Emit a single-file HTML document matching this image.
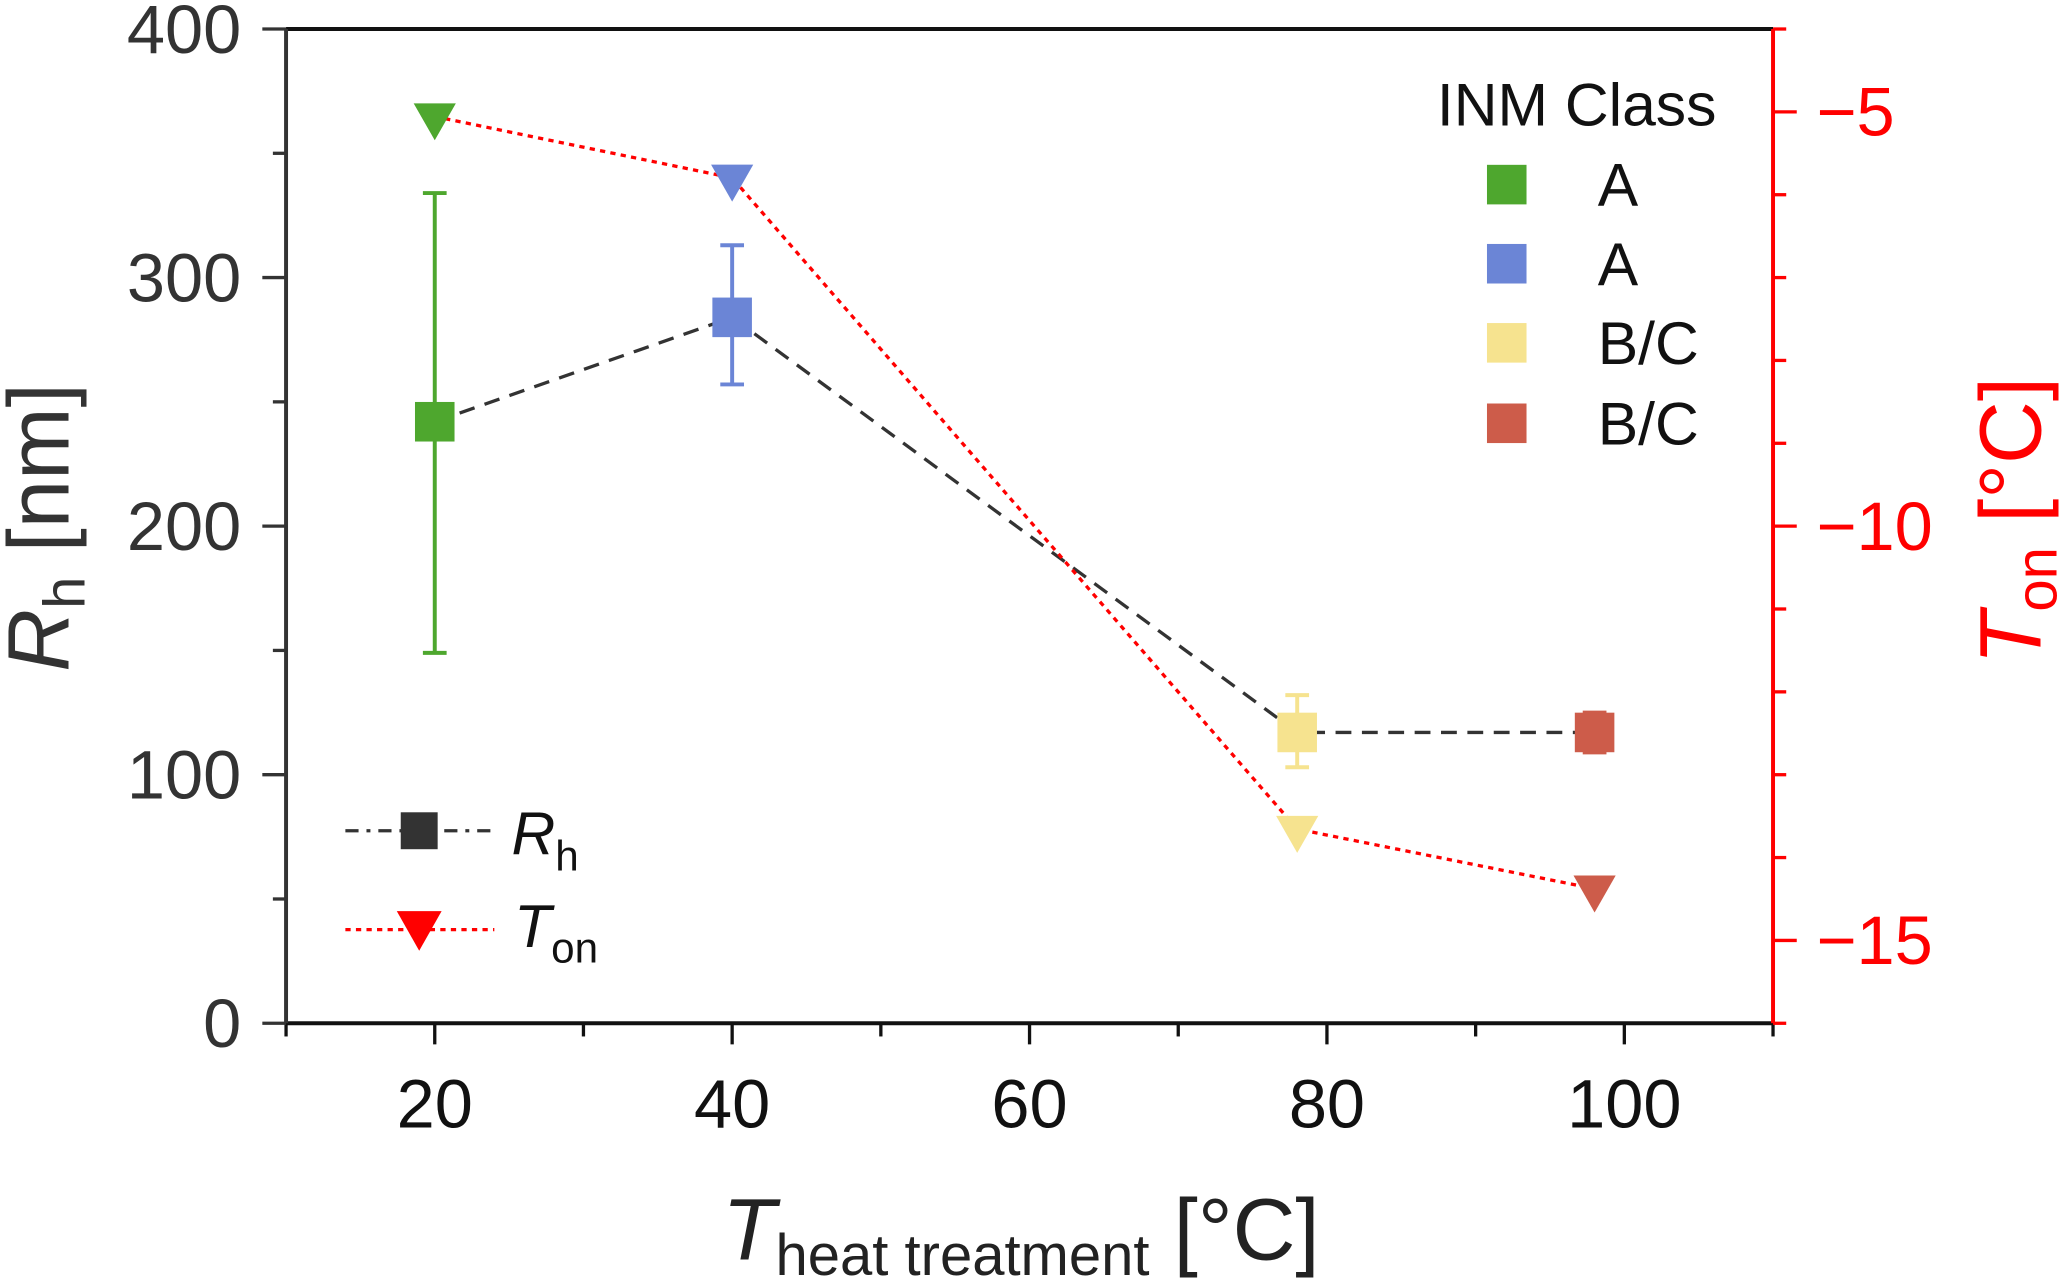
<!DOCTYPE html>
<html><head><meta charset="utf-8"><style>
html,body{margin:0;padding:0;background:#fff;}
svg{display:block;font-family:"Liberation Sans",Arial,sans-serif;}
</style></head><body>
<svg id="chart" width="2067" height="1287" viewBox="0 0 1568 976" preserveAspectRatio="none" xmlns="http://www.w3.org/2000/svg">
<g id="axes"></g>
<g id="marks"></g>
<text x="548" y="955" font-size="66" fill="#222"><tspan font-style="italic">T</tspan><tspan font-size="44" dy="12">heat treatment</tspan><tspan dy="-12"> [°C]</tspan></text>
<text transform="translate(52,400) rotate(-90)" text-anchor="middle" font-size="66" fill="#333"><tspan font-style="italic">R</tspan><tspan font-size="44" dy="12">h</tspan><tspan dy="-12"> [nm]</tspan></text>
<text transform="translate(1548,395) rotate(-90)" text-anchor="middle" font-size="66" fill="#ff0000"><tspan font-style="italic">T</tspan><tspan font-size="44" dy="12">on</tspan><tspan dy="-12"> [°C]</tspan></text>
<g>
<text x="1090" y="95" font-size="46" fill="#111">INM Class</text>
<rect x="1128" y="125" width="30" height="30" fill="#4ea72e"/>
<text x="1212" y="156" font-size="46" fill="#111">A</text>
<rect x="1128" y="185" width="30" height="30" fill="#6b85d6"/>
<text x="1212" y="216" font-size="46" fill="#111">A</text>
<rect x="1128" y="245" width="30" height="30" fill="#f6e38f"/>
<text x="1212" y="276" font-size="46" fill="#111">B/C</text>
<rect x="1128" y="306" width="30" height="30" fill="#cd5c4a"/>
<text x="1212" y="337" font-size="46" fill="#111">B/C</text>
</g>
<g>
<line x1="262" y1="630" x2="375" y2="630" stroke="#333" stroke-width="2.5" stroke-dasharray="10,6,3,6"/>
<rect x="304" y="616" width="28" height="28" fill="#333"/>
<text x="388" y="648" font-size="46" fill="#111"><tspan font-style="italic">R</tspan><tspan font-size="32" dy="12">h</tspan></text>
<line x1="262" y1="705" x2="375" y2="705" stroke="#ff0000" stroke-width="2.5" stroke-dasharray="4,4"/>
<polygon points="301,691 335,691 318,721" fill="#ff0000"/>
<text x="390" y="718" font-size="46" fill="#111"><tspan font-style="italic">T</tspan><tspan font-size="32" dy="12">on</tspan></text>
</g>
</svg>
<script>
const xCats = [20, 40, 78, 98];
const rhVals = [242, 284, 117, 117];
const rhLow = [149, 257, 103, 109];
const rhHigh = [334, 313, 132, 125];
const tonVals = [-5.12, -5.86, -13.72, -14.44];
const colors = ['#4ea72e', '#6b85d6', '#f6e38f', '#cd5c4a'];
const xTicks = [20, 40, 60, 80, 100];
const yTicks = [0, 100, 200, 300, 400];
const rTicks = [-5, -10, -15];

const L=217,R=1345,T=22,B=776;
const xs=v=>L+(v-10)/100*(R-L);
const ys=v=>B-v/400*(B-T);
const rs=v=>T+(-4-v)/12*(B-T);
const NS='http://www.w3.org/2000/svg';
function mk(parent,tag,attrs){const e=document.createElementNS(NS,tag);for(const k in attrs)e.setAttribute(k,attrs[k]);parent.appendChild(e);return e;}
const ax=document.getElementById('axes'), mg=document.getElementById('marks');

let e;
e=mk(ax,'line',{x1:L,y1:T,x2:R,y2:T,stroke:'#111','stroke-width':3});


e=mk(ax,'line',{x1:L,y1:B,x2:R,y2:B,stroke:'#111','stroke-width':3});


e=mk(ax,'line',{x1:L,y1:T,x2:L,y2:B,stroke:'#333','stroke-width':3});


e=mk(ax,'line',{x1:R,y1:T,x2:R,y2:B,stroke:'#ff0000','stroke-width':3});



for(let v=10;v<=110;v+=10){
  const major=v%20===0;
  e=mk(ax,'line',{x1:xs(v),y1:B,x2:xs(v),y2:B+(major?16:10),stroke:'#111','stroke-width':2.5});
  
  
}
xTicks.forEach(v=>{
  e=mk(ax,'text',{x:xs(v),y:855,'text-anchor':'middle','font-size':52,fill:'#111'});
  e.textContent=v;
  
  
});
for(let v=0;v<=400;v+=50){
  const major=v%100===0;
  e=mk(ax,'line',{x1:L,y1:ys(v),x2:L-(major?18:10),y2:ys(v),stroke:'#333','stroke-width':2.5});
  
  
}
yTicks.forEach(v=>{
  e=mk(ax,'text',{x:183,y:ys(v)+18,'text-anchor':'end','font-size':52,fill:'#333'});
  e.textContent=v;
  
  
});
for(let v=-16;v<=-4;v+=1){
  const major=v%5===0;
  e=mk(ax,'line',{x1:R,y1:rs(v),x2:R+(major?18:10),y2:rs(v),stroke:'#ff0000','stroke-width':2.5});
  
  
}
rTicks.forEach(v=>{
  e=mk(ax,'text',{x:1378,y:rs(v)+18,'font-size':52,fill:'#ff0000'});
  e.textContent='\u2212'+Math.abs(v);
  
  
});

e=mk(mg,'polyline',{points:xCats.map((x,i)=>xs(x)+','+ys(rhVals[i])).join(' '),fill:'none',stroke:'#333','stroke-width':2.5,'stroke-dasharray':'12,8'});


e=mk(mg,'polyline',{points:xCats.map((x,i)=>xs(x)+','+(rs(tonVals[i])-4)).join(' '),fill:'none',stroke:'#ff0000','stroke-width':2.5,'stroke-dasharray':'4,4'});



xCats.forEach((x,i)=>{
  const cx=xs(x), c=colors[i];
  e=mk(mg,'line',{x1:cx,y1:ys(rhLow[i]),x2:cx,y2:ys(rhHigh[i]),stroke:c,'stroke-width':3});
  
  
  [rhLow[i],rhHigh[i]].forEach(v=>{
    e=mk(mg,'line',{x1:cx-9,y1:ys(v),x2:cx+9,y2:ys(v),stroke:c,'stroke-width':3});
    
    
  });
  e=mk(mg,'rect',{x:cx-15,y:ys(rhVals[i])-15,width:30,height:30,fill:c});
  
  
  const ty=rs(tonVals[i]);
  e=mk(mg,'polygon',{points:`${cx-16},${ty-14} ${cx+16},${ty-14} ${cx},${ty+14}`,fill:c});
  
  
});
</script>
</body></html>
